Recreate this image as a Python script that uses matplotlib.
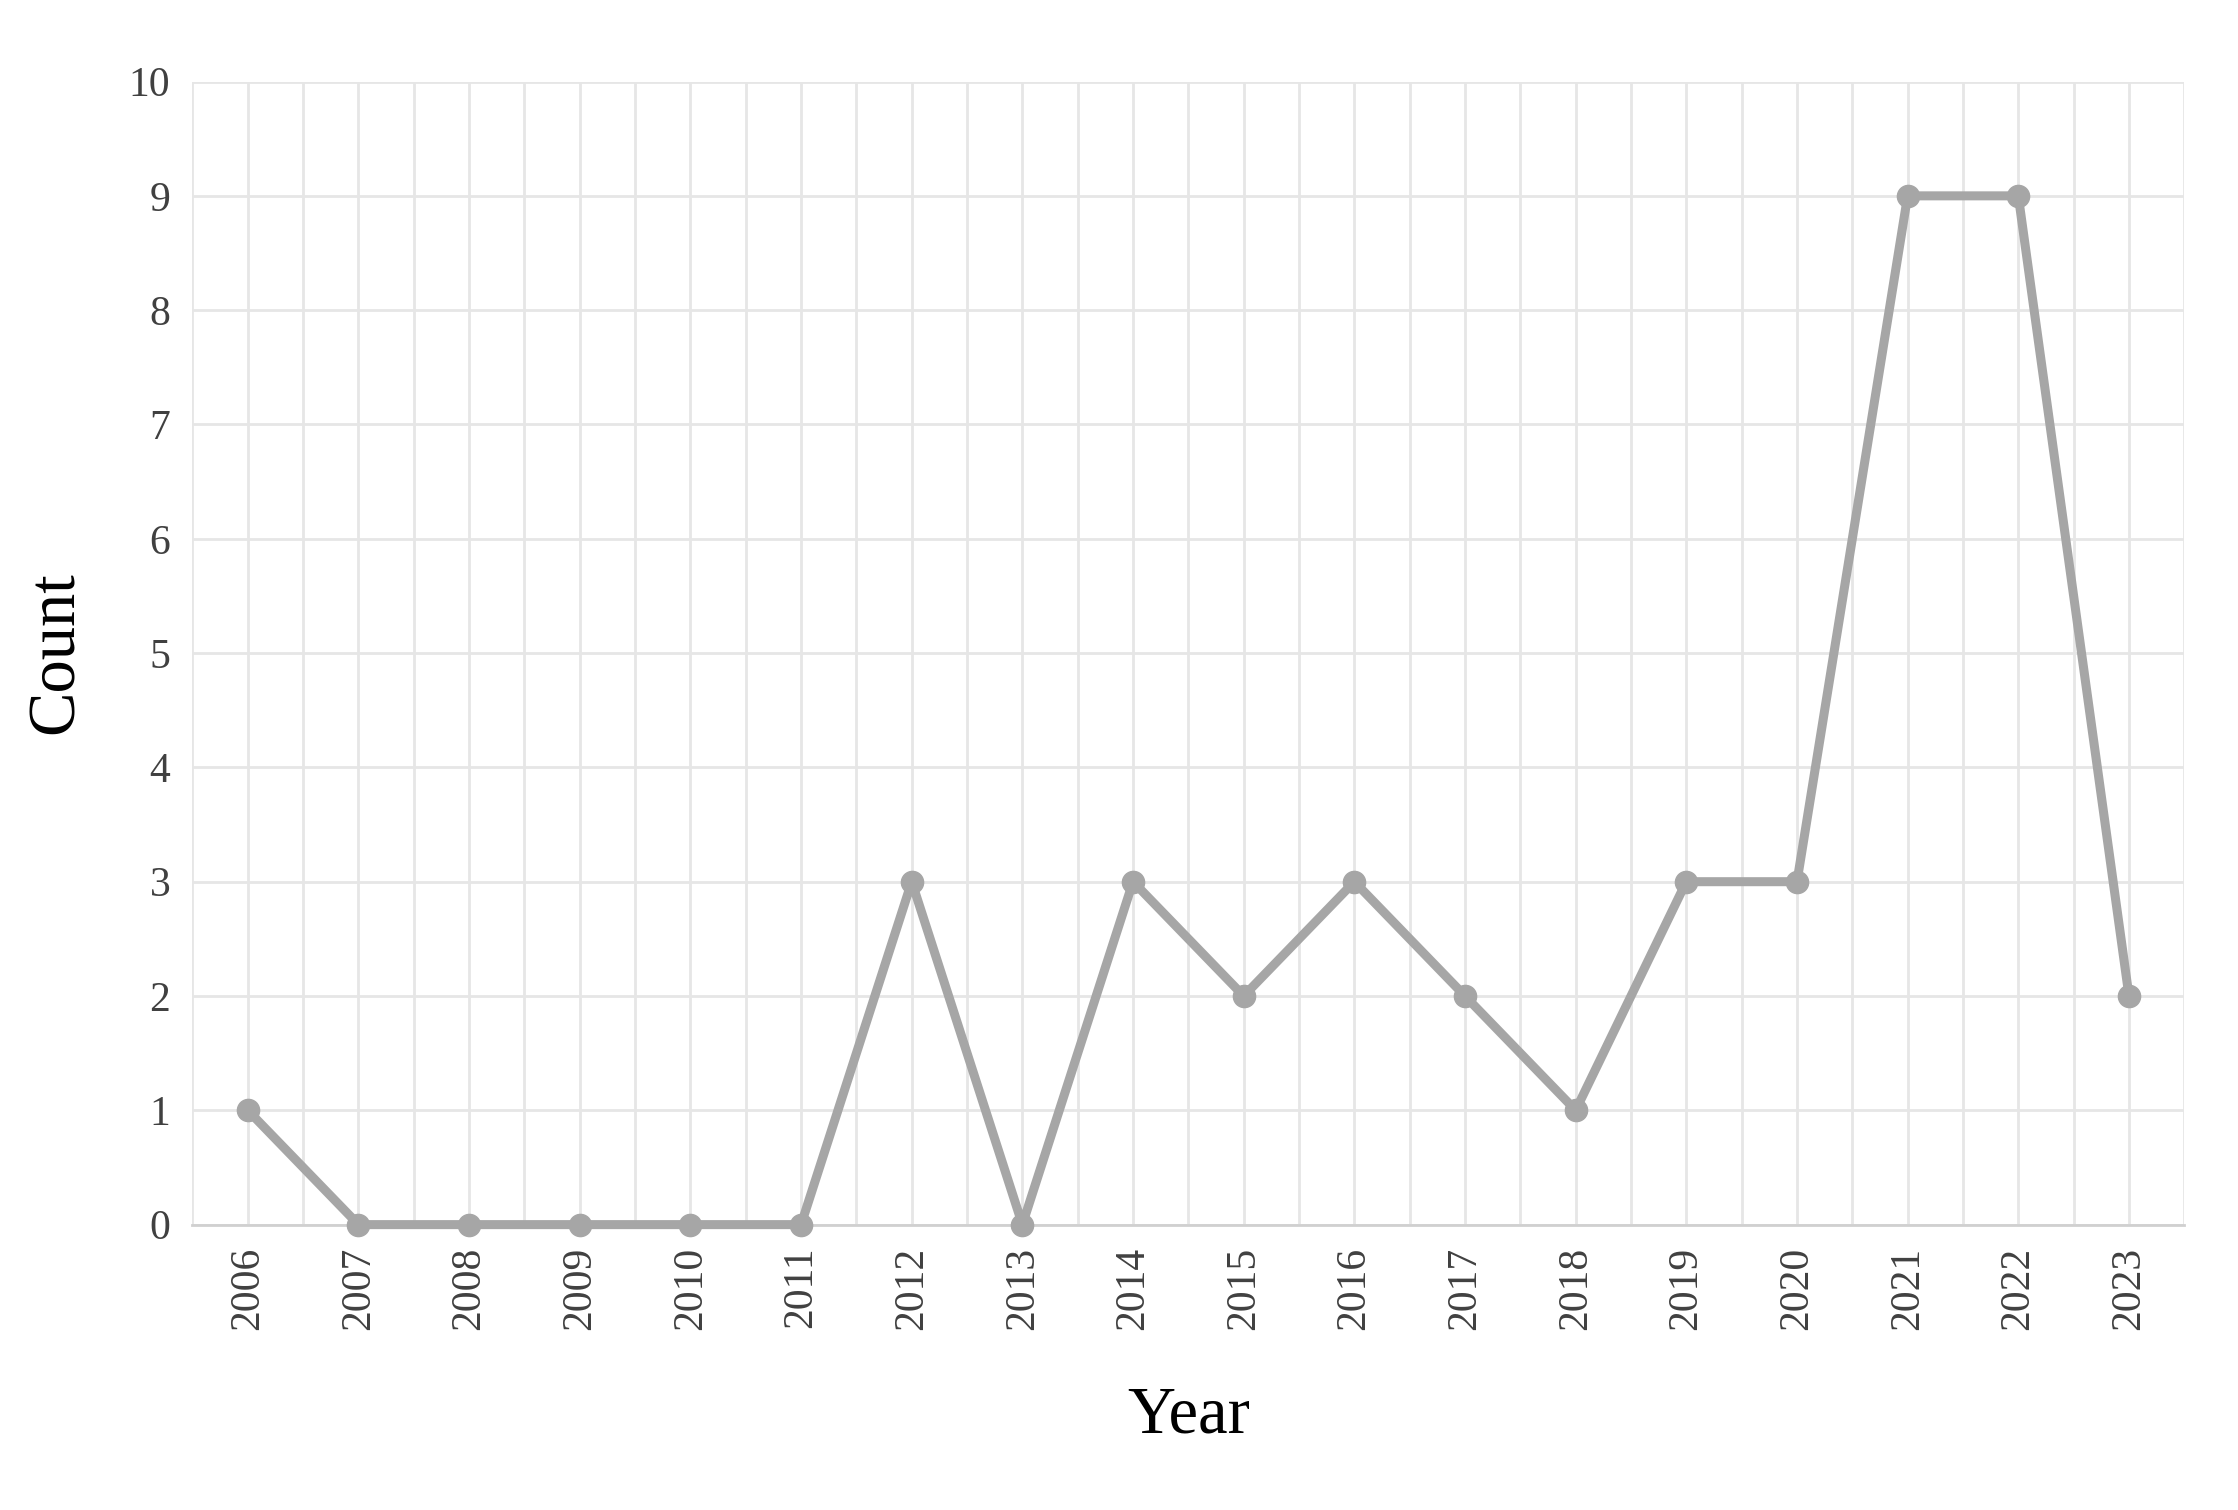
import matplotlib

matplotlib.use("Agg")
import matplotlib.pyplot as plt
import numpy as np

years = [str(y) for y in range(2006, 2024)]
counts = [1, 0, 0, 0, 0, 0, 3, 0, 3, 2, 3, 2, 1, 3, 3, 9, 9, 2]

plt.rcParams["font.family"] = ["Liberation Serif", "DejaVu Serif"]

fig = plt.figure(figsize=(22.38, 15.10), dpi=100)
ax = fig.add_axes([0.086, 0.189, 0.890, 0.757])
x = np.arange(len(years))
ax.plot(x, counts, color="#a6a6a6", lw=6.5, marker="o", ms=16,
        solid_joinstyle="round", clip_on=False, zorder=3)

ax.set_xlim(-0.5, len(years) - 0.5)
ax.set_ylim(0, 10)
ax.set_yticks(range(0, 11))
ax.set_xticks(x)
ax.set_xticklabels(years, rotation=90)
ax.set_xticks(np.arange(-0.5, len(years), 1), minor=True)
ax.grid(True, which="major", color="#e6e6e6", lw=2)
ax.grid(True, which="minor", axis="x", color="#e6e6e6", lw=2)
ax.set_axisbelow(True)
for s in ["left", "top", "right"]:
    ax.spines[s].set_visible(False)
ax.spines["bottom"].set_color("#d0d0d0")
ax.spines["bottom"].set_linewidth(2)
ax.tick_params(which="both", length=0, labelsize=30, colors="#404040", pad=16)
ax.set_ylabel("Count", fontsize=48, labelpad=30)
ax.set_xlabel("Year", fontsize=48, labelpad=40)
fig.savefig("out.png", dpi=100)
